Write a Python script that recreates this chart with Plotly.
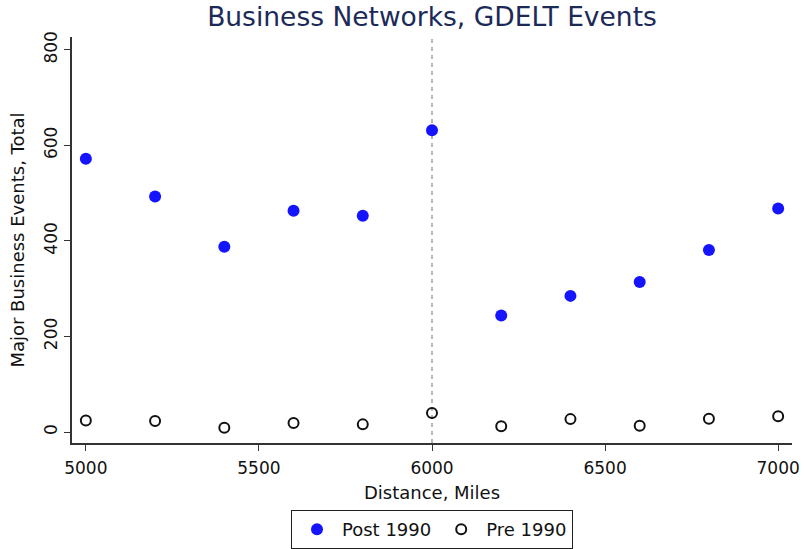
import plotly.graph_objects as go

distance = [5000, 5200, 5400, 5600, 5800, 6000, 6200, 6400, 6600, 6800, 7000]
post_1990 = [572, 493, 388, 463, 453, 632, 244, 285, 314, 381, 468]
pre_1990 = [24, 23, 9, 19, 16, 40, 12, 27, 13, 28, 33]
y_ticks = [0, 200, 400, 600, 800]
x_ticks = [5000, 5500, 6000, 6500, 7000]
cutoff = 6000

FONT = "DejaVu Sans, Liberation Sans, Arial, sans-serif"

fig = go.Figure()
fig.add_trace(go.Scatter(
    x=distance, y=post_1990, mode="markers", name="Post 1990",
    marker=dict(symbol="circle", size=12, color="#1414ff", line=dict(width=0)),
))
fig.add_trace(go.Scatter(
    x=distance, y=pre_1990, mode="markers", name="Pre 1990",
    marker=dict(symbol="circle-open", size=10, color="#111111", line=dict(width=2)),
))

fig.add_shape(type="line", x0=cutoff, x1=cutoff, xref="x", y0=0, y1=1, yref="paper",
              line=dict(color="#a0a0a0", width=1.5, dash="4px,4px"), layer="below")

fig.update_layout(
    width=804, height=549,
    margin=dict(l=72, r=12, t=37, b=106, autoexpand=False),
    paper_bgcolor="white", plot_bgcolor="white",
    font=dict(family=FONT, color="#111111", size=17),
    title=dict(text="Business Networks, GDELT Events", xref="paper", x=0.5, xanchor="center",
               yref="container", y=1 - 17 / 549, yanchor="middle",
               font=dict(family=FONT, size=26.5, color="#1c2a58")),
    showlegend=True,
    legend=dict(orientation="h", x=0.5, xanchor="center", y=-0.165, yanchor="top",
                bordercolor="#222222", borderwidth=1, font=dict(size=18),
                itemwidth=40, traceorder="normal"),
    xaxis=dict(range=[4960, 7040], tickvals=x_ticks, showgrid=False, zeroline=False,
               showline=True, linecolor="#333333", linewidth=1.5, automargin=False,
               ticks="outside", ticklen=6, tickcolor="#333333", ticklabelstandoff=3,
               tickfont=dict(size=17),
               title=dict(text="Distance, Miles", font=dict(size=18), standoff=9)),
    yaxis=dict(range=[-23, 827], tickvals=y_ticks, showgrid=False, zeroline=False,
               showline=True, linecolor="#333333", linewidth=1.5, automargin=False,
               ticks="outside", ticklen=6, tickcolor="#333333",
               tickangle=-90, tickfont=dict(size=17),
               title=dict(text="Major Business Events, Total", font=dict(size=18), standoff=12)),
)

fig.write_html("out.html", config={"displayModeBar": False},
               post_script="document.body.style.margin='0';")
